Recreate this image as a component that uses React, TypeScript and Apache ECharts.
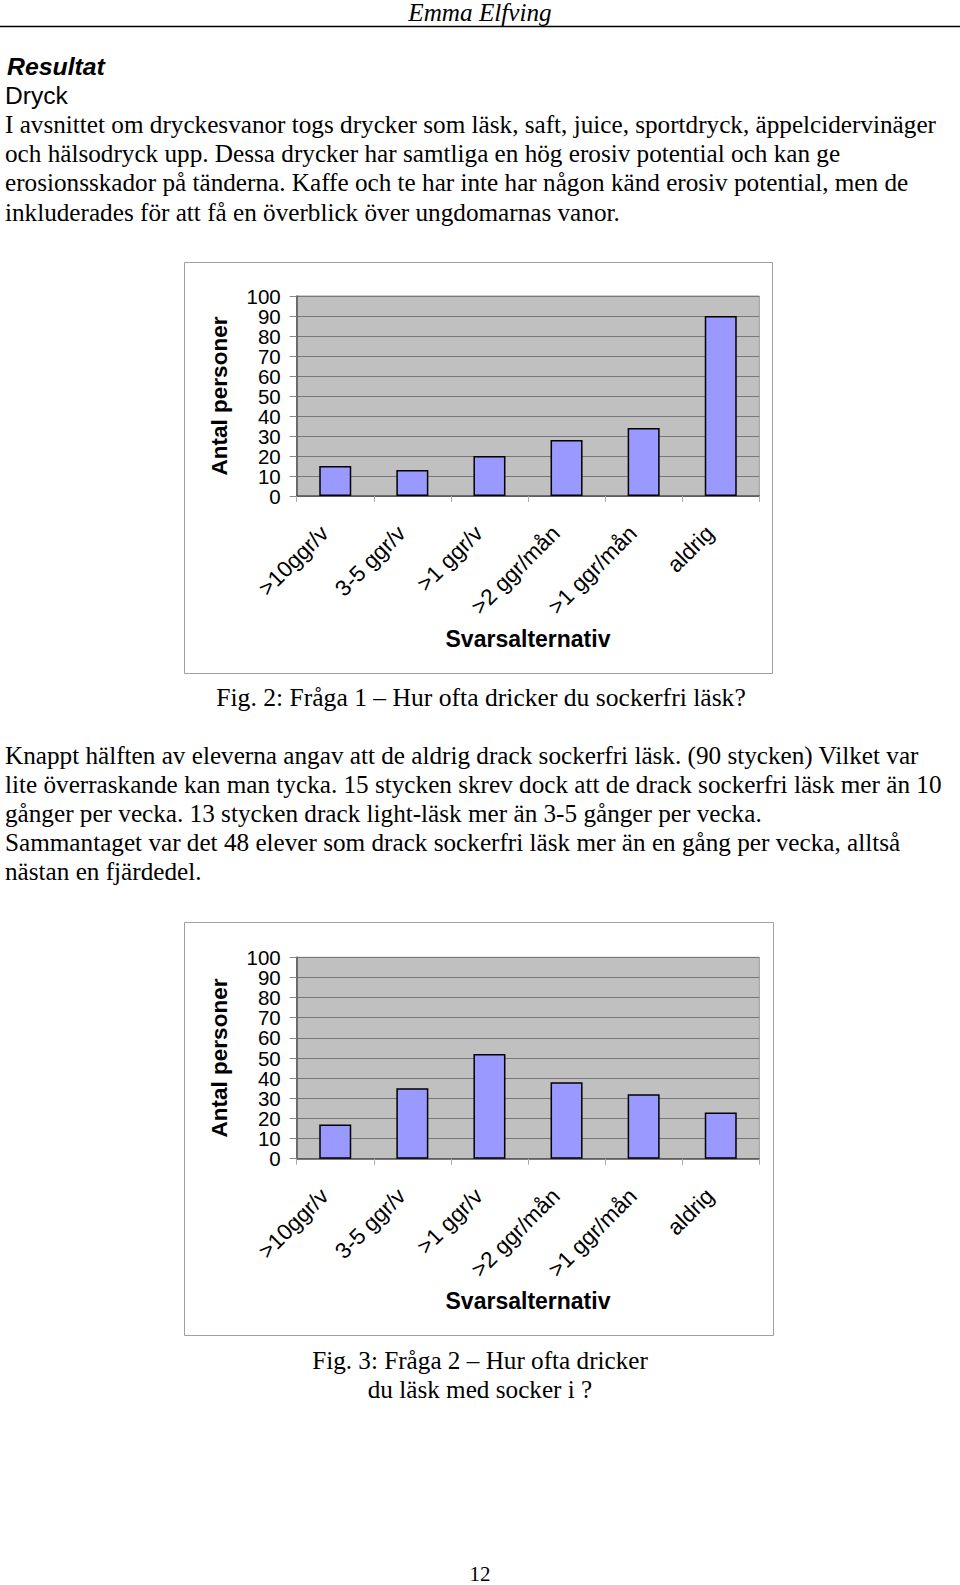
import React, { useEffect, useRef } from "react";
import * as echarts from "echarts";

const categories = [">10ggr/v", "3-5 ggr/v", ">1 ggr/v", ">2 ggr/mån", ">1 ggr/mån", "aldrig"];
const sockerfriValues = [15, 13, 20, 28, 34, 90];
const sockerValues = [17, 35, 52, 38, 32, 23];
const yMin = 0;
const yMax = 100;
const yInterval = 10;
const yLabelsEven = [0, 20, 40, 60, 80, 100];
const yLabelsOdd = [10, 30, 50, 70, 90];
const yTitle = "Antal personer";
const xTitle = "Svarsalternativ";

const headerText = "Emma Elfving";
const sectionTitle = "Resultat";
const subTitle = "Dryck";
const paragraph1 = [
  "I avsnittet om dryckesvanor togs drycker som läsk, saft, juice, sportdryck, äppelcidervinäger",
  "och hälsodryck upp. Dessa drycker har samtliga en hög erosiv potential och kan ge",
  "erosionsskador på tänderna. Kaffe och te har inte har någon känd erosiv potential, men de",
  "inkluderades för att få en överblick över ungdomarnas vanor.",
];
const caption1 = ["Fig. 2: Fråga 1 – Hur ofta dricker du sockerfri läsk?"];
const paragraph2 = [
  "Knappt hälften av eleverna angav att de aldrig drack sockerfri läsk. (90 stycken) Vilket var",
  "lite överraskande kan man tycka. 15 stycken skrev dock att de drack sockerfri läsk mer än 10",
  "gånger per vecka. 13 stycken drack light-läsk mer än 3-5 gånger per vecka.",
  "Sammantaget var det 48 elever som drack sockerfri läsk mer än en gång per vecka, alltså",
  "nästan en fjärdedel.",
];
const caption2 = ["Fig. 3: Fråga 2 – Hur ofta dricker", "du läsk med socker i ?"];
const pageNumber = "12";

const SERIF = "'Liberation Serif', 'Times New Roman', serif";
const SANS = "'Liberation Sans', Arial, sans-serif";

function textEl(text: string, x: number, y: number, opts: any = {}) {
  return {
    type: "text",
    x,
    y,
    silent: true,
    style: {
      text,
      fontFamily: opts.fontFamily || SERIF,
      fontSize: opts.fontSize || 25.2,
      fontStyle: opts.fontStyle || "normal",
      fontWeight: opts.fontWeight || "normal",
      fill: "#000",
      textAlign: opts.align || "left",
      textVerticalAlign: "middle",
    },
  };
}

export default function App() {
  const ref = useRef<HTMLDivElement>(null);
  useEffect(() => {
    if (!ref.current) return;
    const chart = echarts.init(ref.current, undefined, { renderer: "svg" });

    const graphics: any[] = [];
    graphics.push(textEl(headerText, 480, 12, { fontStyle: "italic", align: "center" }));
    graphics.push({
      type: "line",
      silent: true,
      shape: { x1: 0, y1: 26.5, x2: 960, y2: 26.5 },
      style: { stroke: "#000", lineWidth: 1.5 },
    });
    graphics.push(textEl(sectionTitle, 7, 66, { fontFamily: SANS, fontWeight: "bold", fontStyle: "italic", fontSize: 24.8 }));
    graphics.push(textEl(subTitle, 5, 95, { fontFamily: SANS, fontSize: 24.6 }));
    const p1y = [124.3, 153.6, 182.9, 212.2];
    paragraph1.forEach((l, i) => graphics.push(textEl(l, 5, p1y[i])));
    caption1.forEach((l) => graphics.push(textEl(l, 481, 697, { align: "center", fontSize: 25.6 })));
    const p2y = [755, 784.2, 813.5, 842, 871];
    paragraph2.forEach((l, i) => graphics.push(textEl(l, 5, p2y[i])));
    const c2y = [1360, 1389.5];
    caption2.forEach((l, i) => graphics.push(textEl(l, 480, c2y[i], { align: "center" })));
    graphics.push(textEl(pageNumber, 480, 1574, { align: "center", fontSize: 21 }));
    // chart frames
    graphics.push({
      type: "rect",
      silent: true,
      z: -10,
      shape: { x: 184.5, y: 262.5, width: 588, height: 411 },
      style: { fill: "#fff", stroke: "#a0a0a0", lineWidth: 1 },
    });
    graphics.push({
      type: "rect",
      silent: true,
      z: -10,
      shape: { x: 184.5, y: 922.5, width: 589, height: 413 },
      style: { fill: "#fff", stroke: "#a0a0a0", lineWidth: 1 },
    });

    const grids = [
      { left: 296.7, top: 296, width: 462.6, height: 200 },
      { left: 296.7, top: 957.3, width: 462.6, height: 201.4 },
    ];

    const makeX = (gi: number) => ({
      type: "category",
      gridIndex: gi,
      data: categories,
      name: xTitle,
      nameLocation: "middle",
      nameGap: 131,
      nameTextStyle: { fontFamily: SANS, fontSize: 23, fontWeight: "bold", color: "#000" },
      axisLine: { show: true, lineStyle: { color: "#555", width: 1.5 } },
      axisTick: { show: true, length: 6, lineStyle: { color: "#aaa" } },
      axisLabel: {
        rotate: 45,
        margin: 23,
        padding: [0, 15, 0, 0],
        fontFamily: SANS,
        fontSize: 22.5,
        color: "#000",
        interval: 0,
      },
      splitLine: { show: false },
    });
    const labelStyle = {
      margin: 16,
      fontFamily: SANS,
      fontSize: 20.5,
      color: "#000",
      hideOverlap: false,
    };
    const makeY = (gi: number) => ({
      type: "value",
      gridIndex: gi,
      position: "left",
      min: yMin,
      max: yMax,
      interval: yInterval,
      name: yTitle,
      nameLocation: "middle",
      nameGap: 66,
      nameRotate: 90,
      nameTextStyle: { fontFamily: SANS, fontSize: 22.5, fontWeight: "bold", color: "#000" },
      axisLine: { show: true, lineStyle: { color: "#555", width: 1.5 } },
      axisTick: { show: true, length: 7, lineStyle: { color: "#888" } },
      axisLabel: { ...labelStyle, customValues: yLabelsEven },
      splitLine: { show: true, lineStyle: { color: "#777", width: 1 } },
    });
    const makeYOdd = (gi: number) => ({
      type: "value",
      gridIndex: gi,
      position: "left",
      offset: 0,
      min: yMin,
      max: yMax,
      interval: yInterval,
      axisLine: { show: false },
      axisTick: { show: false },
      axisLabel: { ...labelStyle, customValues: yLabelsOdd },
      splitLine: { show: false },
    });

    chart.setOption({
      animation: false,
      graphic: graphics,
      grid: grids.map((g) => ({
        ...g,
        show: true,
        backgroundColor: "#c0c0c0",
        borderColor: "#999",
        borderWidth: 1,
      })),
      xAxis: [makeX(0), makeX(1)],
      yAxis: [makeY(0), makeY(1), makeYOdd(0), makeYOdd(1)],
      series: [
        {
          type: "bar",
          xAxisIndex: 0,
          yAxisIndex: 0,
          data: sockerfriValues,
          barWidth: 32,
          itemStyle: { color: "#9999ff", borderColor: "#000", borderWidth: 1.5 },
        },
        {
          type: "bar",
          xAxisIndex: 1,
          yAxisIndex: 1,
          data: sockerValues,
          barWidth: 32,
          itemStyle: { color: "#9999ff", borderColor: "#000", borderWidth: 1.5 },
        },
      ],
    });
    return () => chart.dispose();
  }, []);
  return (
    <div
      ref={ref}
      style={{ position: "absolute", left: 0, top: 0, width: 960, height: 1585, background: "#fff" }}
    />
  );
}
